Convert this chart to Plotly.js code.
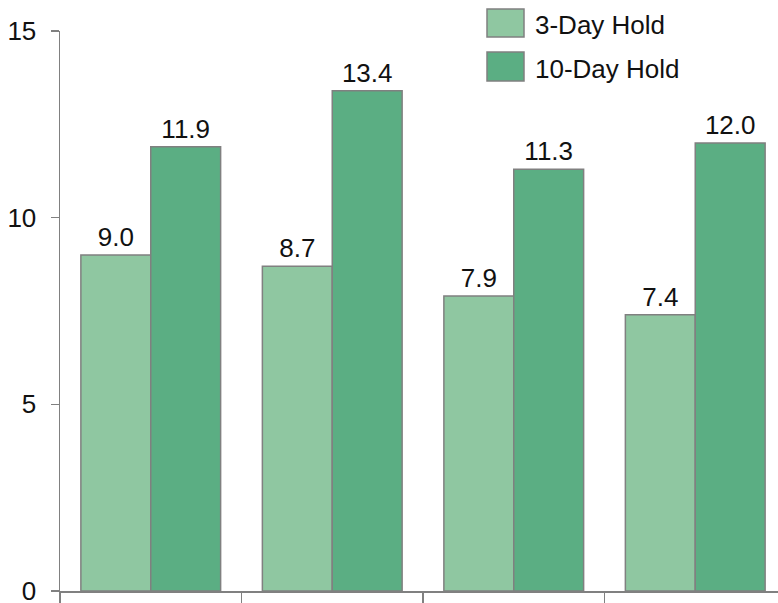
<!DOCTYPE html>
<html>
<head>
<meta charset="utf-8">
<script src="https://cdn.plot.ly/plotly-3.0.1.min.js"></script>
<style>
html,body{margin:0;padding:0;background:#fff;overflow:hidden;width:778px;height:603px;}
#wrap{width:778px;height:603px;overflow:hidden;position:relative;}
#chart{width:778px;height:615px;}
</style>
</head>
<body>
<div id="wrap"><div id="chart"></div></div>
<script>
var categories = ["Group 1", "Group 2", "Group 3", "Group 4"];
var seriesNames = ["3-Day Hold", "10-Day Hold"];
var hold3 = [9.0, 8.7, 7.9, 7.4];
var hold10 = [11.9, 13.4, 11.3, 12.0];
var yTicks = [0, 5, 10, 15];

var colors = ["#8fc7a1", "#5bae83"];
// layout is slightly taller than the visible window so the "0" tick label is not culled
var W = 778, H = 615, mL = 60, mR = 0, mT = 31, mB = 24;
var pw = W - mL - mR, ph = H - mT - mB;
function px2x(p) { return (p - mL) / pw; }
function px2y(p) { return (H - mB - p) / ph; }

var font = "Liberation Sans, Arial, sans-serif";
var fs = 26;
function mk(vals, i) {
  return {
    type: "bar", x: categories, y: vals, name: seriesNames[i],
    marker: {color: colors[i], line: {color: "#808080", width: 1.5}},
    text: vals.map(function(v){return v.toFixed(1);}),
    textposition: "outside", cliponaxis: false,
    textfont: {family: font, size: fs, color: "#111"},
    hoverinfo: "skip"
  };
}
var data = [mk(hold3, 0), mk(hold10, 1)];

var shapes = [], annotations = [];
var legY = [[9, 37], [52, 81]];
for (var i = 0; i < seriesNames.length; i++) {
  shapes.push({type: "rect", xref: "paper", yref: "paper",
    x0: px2x(487), x1: px2x(524), y0: px2y(legY[i][1]), y1: px2y(legY[i][0]),
    fillcolor: colors[i], line: {color: "#808080", width: 1.5}});
  annotations.push({xref: "paper", yref: "paper", x: px2x(533), y: px2y((legY[i][0] + legY[i][1]) / 2 + 2),
    xanchor: "left", yanchor: "middle", showarrow: false, text: seriesNames[i],
    font: {family: font, size: fs, color: "#111"}});
}

var layout = {
  width: W, height: H,
  margin: {l: mL, r: mR, t: mT, b: mB, pad: 0},
  paper_bgcolor: "#fff", plot_bgcolor: "#fff",
  showlegend: false,
  barmode: "group", bargap: 0.23, bargroupgap: 0,
  font: {family: font, size: fs, color: "#111"},
  xaxis: {
    type: "category", range: [-0.5, -0.5 + pw / 181.5],
    showgrid: false, zeroline: false, showline: true, linecolor: "#808080", linewidth: 1.5,
    ticks: "outside", tickson: "boundaries", ticklen: 16, tickcolor: "#808080", tickwidth: 1.5,
    showticklabels: false
  },
  yaxis: {
    range: [0, 15], tickvals: yTicks, ticktext: yTicks.map(String),
    showgrid: false, zeroline: false, showline: true, linecolor: "#808080", linewidth: 1.5,
    ticks: "outside", ticklen: 8, tickcolor: "#808080", tickwidth: 1.5,
    tickfont: {family: font, size: fs, color: "#111"}, ticklabelstandoff: 9
  },
  shapes: shapes, annotations: annotations
};
Plotly.newPlot("chart", data, layout, {displayModeBar: false, staticPlot: true});
</script>
</body>
</html>
